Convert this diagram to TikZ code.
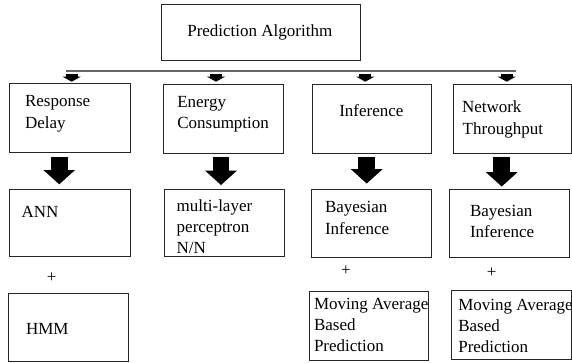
\documentclass[tikz,border=0pt]{standalone}
\usepackage{fontspec}
\setmainfont{Liberation Serif}
\usetikzlibrary{arrows.meta}
\begin{document}
\begin{tikzpicture}[x=1pt,y=-1pt,
  box/.style={draw=black!85, line width=1pt, inner sep=0pt, outer sep=0pt},
  lbl/.style={anchor=base west, inner sep=0pt, outer sep=0pt, font=\fontsize{17}{21}\selectfont},
  plus/.style={anchor=center, inner sep=0pt, font=\fontsize{17}{21}\selectfont},
  smallarrow/.style={draw=black, line width=12pt, -{Triangle[width=18pt,length=5pt,line width=0pt]}},
  bigarrow/.style={draw=black, line width=16.7pt, -{Triangle[width=31.7pt,length=14.3pt,line width=0pt]}},
  hline/.style={draw=black!60, line width=1.3pt}]
\useasboundingbox (0,0) rectangle (572,362);
% boxes
\node[box, minimum width=198.6pt, minimum height=55.7pt] (top) at (261,32.15) {};
\node[box, minimum width=120.7pt, minimum height=69.4pt] (b1) at (69.65,118) {};
\node[box, minimum width=120.2pt, minimum height=68.7pt] (b2) at (223.4,118.65) {};
\node[box, minimum width=119.5pt, minimum height=69pt] (b3) at (371.75,118.8) {};
\node[box, minimum width=118.3pt, minimum height=69.3pt] (b4) at (512.15,118.65) {};
\node[box, minimum width=120.5pt, minimum height=67.7pt] (c1) at (69.75,222.85) {};
\node[box, minimum width=119.5pt, minimum height=67.7pt] (c2) at (224.25,222.85) {};
\node[box, minimum width=120pt, minimum height=68.4pt] (c3) at (371.7,223.5) {};
\node[box, minimum width=120pt, minimum height=68.4pt] (c4) at (509,223.5) {};
\node[box, minimum width=120pt, minimum height=67.7pt] (d1) at (68.3,327.15) {};
\node[box, minimum width=119pt, minimum height=69pt] (d3) at (368.8,325.5) {};
\node[box, minimum width=119.3pt, minimum height=69pt] (d4) at (511.35,324.5) {};
% texts
\node[lbl] (ttop) at (187.3,36.7) {Prediction Algorithm};
\node[lbl] (tb1a) at (25,106.5) {Response};
\node[lbl] (tb1b) at (25,128.5) {Delay};
\node[lbl] (tb2a) at (177.3,107.5) {Energy};
\node[lbl] (tb2b) at (177.3,128.5) {Consumption};
\node[lbl] (tb3) at (339.3,116.5) {Inference};
\node[lbl] (tb4a) at (462,112.7) {Network};
\node[lbl] (tb4b) at (462.7,134) {Throughput};
\node[lbl] (tc1) at (21.7,217.7) {ANN};
\node[lbl] (tc2a) at (176.7,211.5) {multi-layer};
\node[lbl] (tc2b) at (176.7,232.5) {perceptron};
\node[lbl] (tc2c) at (176.7,253.5) {N/N};
\node[lbl] (tc3a) at (325,212.3) {Bayesian};
\node[lbl] (tc3b) at (325,234) {Inference};
\node[lbl] (tc4a) at (470,216.7) {Bayesian};
\node[lbl] (tc4b) at (470,237.3) {Inference};
\node[lbl] (td1) at (26,334.3) {HMM};
\node[lbl] (td3a) at (314,309) {Moving Average};
\node[lbl] (td3b) at (314,330) {Based};
\node[lbl] (td3c) at (314,351) {Prediction};
\node[lbl] (td4a) at (458.3,310) {Moving Average};
\node[lbl] (td4b) at (458.3,331.5) {Based};
\node[lbl] (td4c) at (458.3,352.5) {Prediction};
\node[plus] (p1) at (51.7,277.7) {+};
\node[plus] (p3) at (346,271) {+};
\node[plus] (p4) at (491.7,272.7) {+};
% horizontal line
\coordinate (hl) at (66.3,71);
\coordinate (hr) at (515.8,71);
\draw[hline] (hl) -- (hr);
% small arrows
\foreach \n/\x in {1/71.7,2/216,3/365.3,4/506.7}{
  \coordinate (s\n) at (\x,74.3);
  \coordinate (e\n) at (\x,81.7);
  \draw[smallarrow] (s\n) -- (e\n);
}
% big arrows
\foreach \n/\x/\t in {1/59.2/184.3,2/221/185,3/366.7/183.5,4/501.7/186.5}{
  \coordinate (bs\n) at (\x,157.3);
  \coordinate (be\n) at (\x,\t);
  \draw[bigarrow] (bs\n) -- (be\n);
}
\end{tikzpicture}
\end{document}
